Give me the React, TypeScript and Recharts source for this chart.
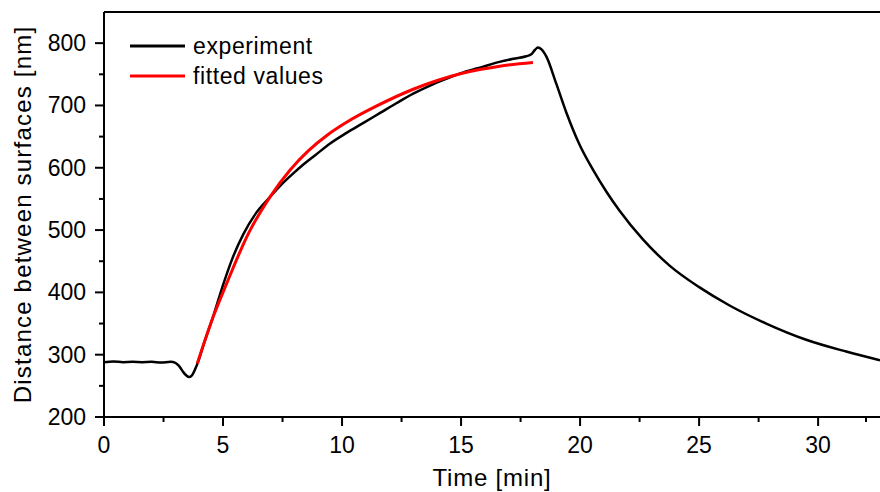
import { LineChart, Line, XAxis, YAxis, ReferenceLine, Legend, Label } from 'recharts'

// experiment curve: time [min] / distance [nm]
const expTime = [
  0, 0.4, 0.8, 1.2, 1.6, 2.0, 2.4, 2.8, 3.0, 3.15, 3.33, 3.45, 3.58, 3.7, 3.82, 3.95,
  4.2, 4.59, 5.01, 5.4, 5.85, 6.4, 6.97, 7.45, 7.95, 8.4, 8.9, 9.5, 10.19, 10.9, 11.6,
  12.3, 12.99, 13.7, 14.4, 15.1, 15.9, 16.62, 17.2, 17.74, 17.95, 18.1, 18.23, 18.38,
  18.59, 19.0, 19.43, 19.98, 20.54, 21.1, 21.66, 22.64, 23.76, 25.02, 26.28, 27.82,
  29.5, 31.18, 32.6,
]
const expValues = [
  288, 289, 288, 288.5, 288, 288.5, 287.5, 288.5, 287, 282, 272, 267, 264, 267, 276, 288,
  318, 362, 413, 455, 493, 528, 553, 573, 591, 606, 621, 639, 656, 672, 688,
  704, 719, 732, 743, 753, 762, 770, 775, 779, 782, 789, 793, 790,
  778, 735, 688, 637, 597, 562, 531, 485, 443, 408, 379, 350,
  324, 305, 291,
]

// fitted curve
const fitTime = [3.92, 4.6, 5.15, 6.06, 6.97, 7.81, 8.58, 9.4, 10.19, 11.5, 12.99, 14.0, 15.09, 16.62, 18.02]
const fitValues = [286, 362, 414, 494, 553, 596, 627, 653, 673, 700, 726, 740, 752, 763, 769]

const xTicks = [0, 2.5, 5, 7.5, 10, 12.5, 15, 17.5, 20, 22.5, 25, 27.5, 30, 32.5]
const yTicks = [200, 250, 300, 350, 400, 450, 500, 550, 600, 650, 700, 750, 800]

const expData = expTime.map((t, i) => ({ t, v: expValues[i] }))
const fitData = fitTime.map((t, i) => ({ t, v: fitValues[i] }))

const FONT = '"Liberation Sans", Arial, sans-serif'

const XTick = (props: any) => {
  const { x, y, payload } = props
  const major = payload.value % 5 === 0
  return (
    <g>
      <line x1={x} x2={x} y1={y} y2={y + (major ? 9 : 5)} stroke="#000" strokeWidth={2} />
      {major && (
        <text x={x} y={y + 36} textAnchor="middle" fontFamily={FONT} fontSize={23} fill="#000">
          {payload.value}
        </text>
      )}
    </g>
  )
}

const YTick = (props: any) => {
  const { x, y, payload } = props
  const major = payload.value % 100 === 0
  return (
    <g>
      <line x1={x} x2={x - (major ? 9 : 5)} y1={y} y2={y} stroke="#000" strokeWidth={2} />
      {major && (
        <text x={x - 18} y={y + 8} textAnchor="end" fontFamily={FONT} fontSize={23} fill="#000">
          {payload.value}
        </text>
      )}
    </g>
  )
}

const LegendBox = (props: any) => {
  const items = props.payload || []
  return (
    <svg width={230} height={64}>
      {items.map((p: any, i: number) => (
        <g key={p.value}>
          <line x1={2} x2={57} y1={16 + i * 30} y2={16 + i * 30} stroke={p.color} strokeWidth={3} />
          <text x={65} y={24 + i * 30} fontFamily={FONT} fontSize={23} letterSpacing={0.6} fill="#000">
            {p.value}
          </text>
        </g>
      ))}
    </svg>
  )
}

export default function App() {
  return (
    <div style={{ position: 'absolute', left: 0, top: 0, background: '#fff' }}>
      <LineChart width={880} height={492} margin={{ top: 12, right: 0, bottom: 0, left: 0 }}>
        <XAxis
          dataKey="t"
          type="number"
          domain={[0, 32.6]}
          ticks={xTicks}
          allowDataOverflow
          height={75}
          tickSize={0}
          tickMargin={0}
          tickLine={false}
          tick={XTick}
          axisLine={{ stroke: '#000', strokeWidth: 2 }}
        >
          <Label
            content={(p: any) => (
              <text
                x={p.viewBox.x + p.viewBox.width / 2}
                y={486}
                textAnchor="middle"
                fontFamily={FONT}
                fontSize={24}
                letterSpacing={0.8}
                fill="#000"
              >
                Time [min]
              </text>
            )}
          />
        </XAxis>
        <YAxis
          type="number"
          domain={[200, 850]}
          ticks={yTicks}
          allowDataOverflow
          width={104}
          tickSize={0}
          tickMargin={0}
          tickLine={false}
          tick={YTick}
          axisLine={{ stroke: '#000', strokeWidth: 2 }}
        >
          <Label
            content={(p: any) => {
              const cy = p.viewBox.y + p.viewBox.height / 2
              return (
                <text
                  x={31}
                  y={cy}
                  transform={`rotate(-90, 31, ${cy})`}
                  textAnchor="middle"
                  fontFamily={FONT}
                  fontSize={24}
                  letterSpacing={1.2}
                  fill="#000"
                >
                  Distance between surfaces [nm]
                </text>
              )
            }}
          />
        </YAxis>
        <ReferenceLine y={850} stroke="#000" strokeWidth={2} />
        <Legend
          layout="horizontal"
          verticalAlign="middle"
          align="center"
          content={LegendBox}
          wrapperStyle={{ left: 128, top: 30, width: 230, height: 64 }}
        />
        <Line
          data={expData}
          dataKey="v"
          name="experiment"
          type="monotone"
          stroke="#000"
          strokeWidth={2.5}
          dot={false}
          isAnimationActive={false}
        />
        <Line
          data={fitData}
          dataKey="v"
          name="fitted values"
          type="monotone"
          stroke="#ff0000"
          strokeWidth={3}
          dot={false}
          isAnimationActive={false}
        />
      </LineChart>
    </div>
  )
}
